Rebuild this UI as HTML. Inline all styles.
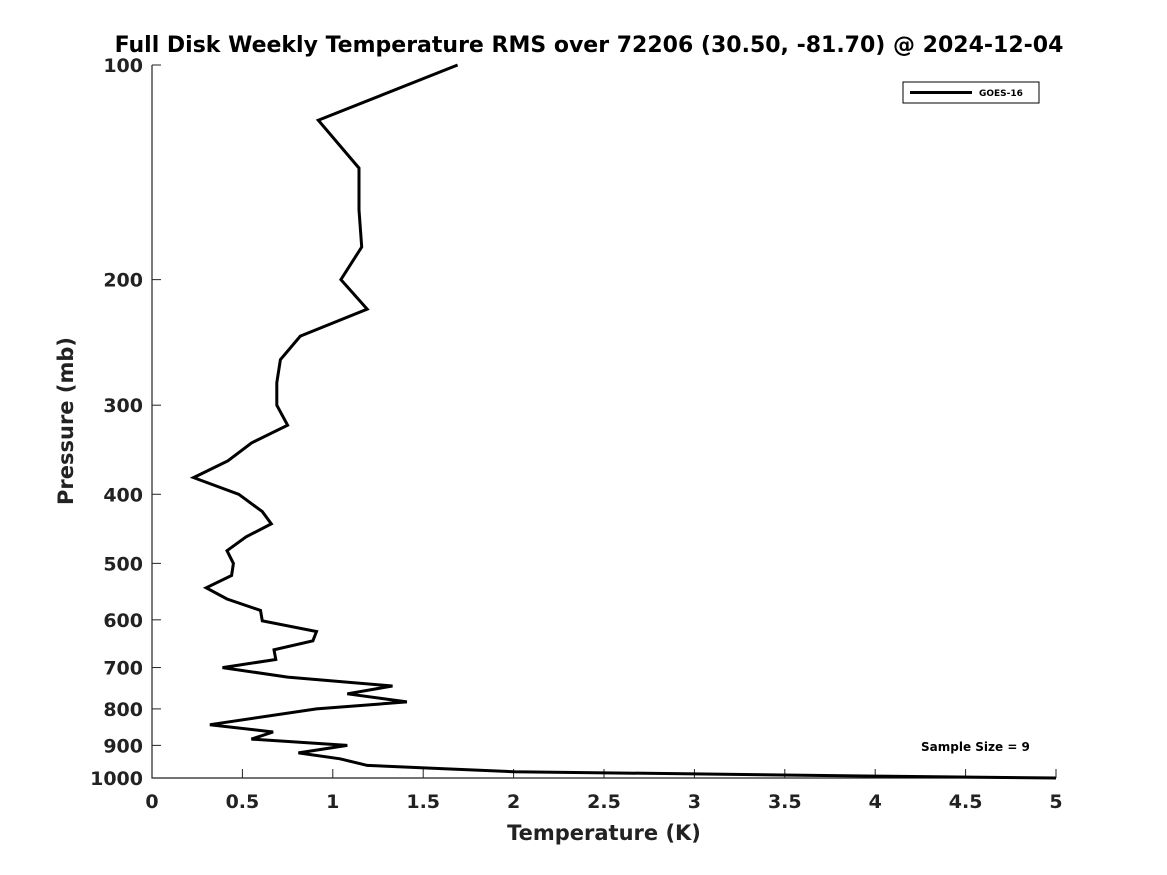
<!DOCTYPE html>
<html><head><meta charset="utf-8"><style>
html,body{margin:0;padding:0;background:#fff;}
svg{display:block;font-family:"DejaVu Sans","Liberation Sans",sans-serif;}
</style></head><body>
<svg id="chart" width="1167" height="875" viewBox="0 0 1167 875" xmlns="http://www.w3.org/2000/svg">
<rect width="1167" height="875" fill="#fff"/>
<text x="589" y="52" text-anchor="middle" font-size="22" font-weight="bold" fill="#000">Full Disk Weekly Temperature RMS over 72206 (30.50, -81.70) @ 2024-12-04</text>
<g id="axes"></g>
<g id="series"></g>
<g>
<rect x="903" y="82" width="136" height="21" fill="#fff" stroke="#000" stroke-width="1"/>
<line x1="910" y1="92.5" x2="972" y2="92.5" stroke="#000" stroke-width="3"/>
<text x="979" y="96" font-size="9" font-weight="bold">GOES-16</text>
</g>
<text x="921" y="751" font-size="12" font-weight="bold">Sample Size = 9</text>
<text x="604" y="840" text-anchor="middle" font-size="21" font-weight="bold" fill="#222">Temperature (K)</text>
<text transform="translate(73,421) rotate(-90)" text-anchor="middle" font-size="21" font-weight="bold" fill="#222">Pressure (mb)</text>
</svg>
<script>
const xTicks = [0,0.5,1,1.5,2,2.5,3,3.5,4,4.5,5];
const xTickLabels = ["0","0.5","1","1.5","2","2.5","3","3.5","4","4.5","5"];
const yTicks = [100,200,300,400,500,600,700,800,900,1000];
const yTickLabels = ["100","200","300","400","500","600","700","800","900","1000"];
const temps = [1.69,0.92,1.145,1.145,1.16,1.045,1.19,0.82,0.71,0.69,0.69,0.75,0.55,0.42,0.23,0.48,0.61,0.66,0.52,0.415,0.45,0.44,0.30,0.415,0.60,0.61,0.91,0.89,0.675,0.685,0.39,0.75,1.33,1.08,1.41,0.91,0.32,0.67,0.55,1.08,0.81,1.04,1.19,1.6,2.0,3.0,4.0,5.0];
const pressures = [100,119.5,139.5,159.6,180,200,220,240,259,279,300,320,339,359,379,400,423,440,459,480,500,520,541,561,582,602,623,642,661,682,700,722,743,762,782,800,842,862,882,900,922,940,960,970,980,987,994,1000];
const X0=152,X1=1056,Y0=65,Y1=778;
function xs(v){return X0+(v-0)/(5-0)*(X1-X0);}
function ys(p){return Y0+(Math.log10(p)-2)/(3-2)*(Y1-Y0);}
const NS="http://www.w3.org/2000/svg";
const axes=document.getElementById('axes');
function mk(tag,attrs,parent){const e=document.createElementNS(NS,tag);for(const k in attrs)e.setAttribute(k,attrs[k]);parent.appendChild(e);return e;}
const ax=mk('path',{d:`M${X0},${Y0}V${Y1}H${X1}`,fill:'none',stroke:'#222','stroke-width':1.2},axes);


xTicks.forEach((t,i)=>{
  const x=xs(t);
  const l=mk('line',{x1:x,x2:x,y1:Y1,y2:Y1-9,stroke:'#222'},axes);
  
  
  const tx=mk('text',{x:x,y:Y1+30,'text-anchor':'middle','font-size':19,'font-weight':'bold',fill:'#222'},axes);
  
  
  tx.textContent=xTickLabels[i];
});
yTicks.forEach((t,i)=>{
  const y=ys(t);
  const l=mk('line',{x1:X0,x2:X0+9,y1:y,y2:y,stroke:'#222'},axes);
  
  
  const tx=mk('text',{x:X0-9,y:y+7,'text-anchor':'end','font-size':19,'font-weight':'bold',fill:'#222'},axes);
  
  
  tx.textContent=yTickLabels[i];
});
const pts=temps.map((t,i)=>xs(t).toFixed(1)+','+ys(pressures[i]).toFixed(1)).join(' ');
const line=mk('polyline',{points:pts,fill:'none',stroke:'#000','stroke-width':3,'stroke-linejoin':'miter'},document.getElementById('series'));


</script>
</body></html>
